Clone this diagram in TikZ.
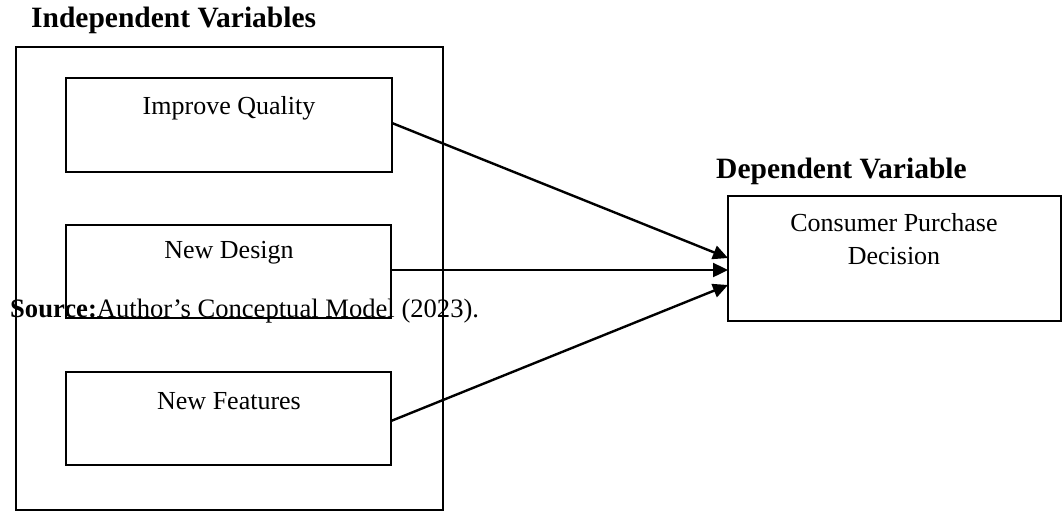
\documentclass[tikz,border=0pt]{standalone}
\usepackage{fontspec}
\setmainfont{Liberation Serif}
\usetikzlibrary{arrows.meta}
\begin{document}
\begin{tikzpicture}[x=1pt,y=-1pt,
  box/.style={draw,line width=2.3pt},
  frame/.style={draw,line width=1.7pt},
  lbl/.style={font=\fontsize{26}{33}\selectfont,inner sep=0pt},
  head/.style={font=\fontsize{29.5}{33}\selectfont\bfseries,inner sep=0pt},
  arr/.style={line width=2.4pt,-{Triangle[length=15pt,width=14pt]}}]
\useasboundingbox (0,0) rectangle (1063,512);
\draw[frame] (16,47) rectangle (443,510);
\node[head,anchor=west] (th1) at (31,20) {Independent Variables};
\node[head,anchor=west] (th2) at (716,171) {Dependent Variable};
\draw[box] (66,78) rectangle (392,172);
\coordinate (q) at (392,123);
\node[lbl] (tq) at (229,108) {Improve Quality};
\draw[box] (66,225) rectangle (391,318);
\coordinate (d) at (391,270);
\node[lbl] (td) at (229,253) {New Design};
\draw[box] (66,372) rectangle (391,465);
\coordinate (f) at (391,421);
\node[lbl] (tf) at (229,401) {New Features};
\draw[box] (728,196) rectangle (1061,321);
\node[lbl,align=center] (tc) at (894,239) {Consumer Purchase\\Decision};
\coordinate (c1) at (728,258);
\coordinate (c2) at (728,270);
\coordinate (c3) at (728,285);
\draw[arr] (q) -- (c1);
\draw[arr] (d) -- (c2);
\draw[arr] (f) -- (c3);
\node[lbl,font=\fontsize{26.6}{30}\selectfont,anchor=base west] (src) at (10,317) {\textbf{Source:}Author’s Conceptual Model (2023).};
\end{tikzpicture}
\end{document}
